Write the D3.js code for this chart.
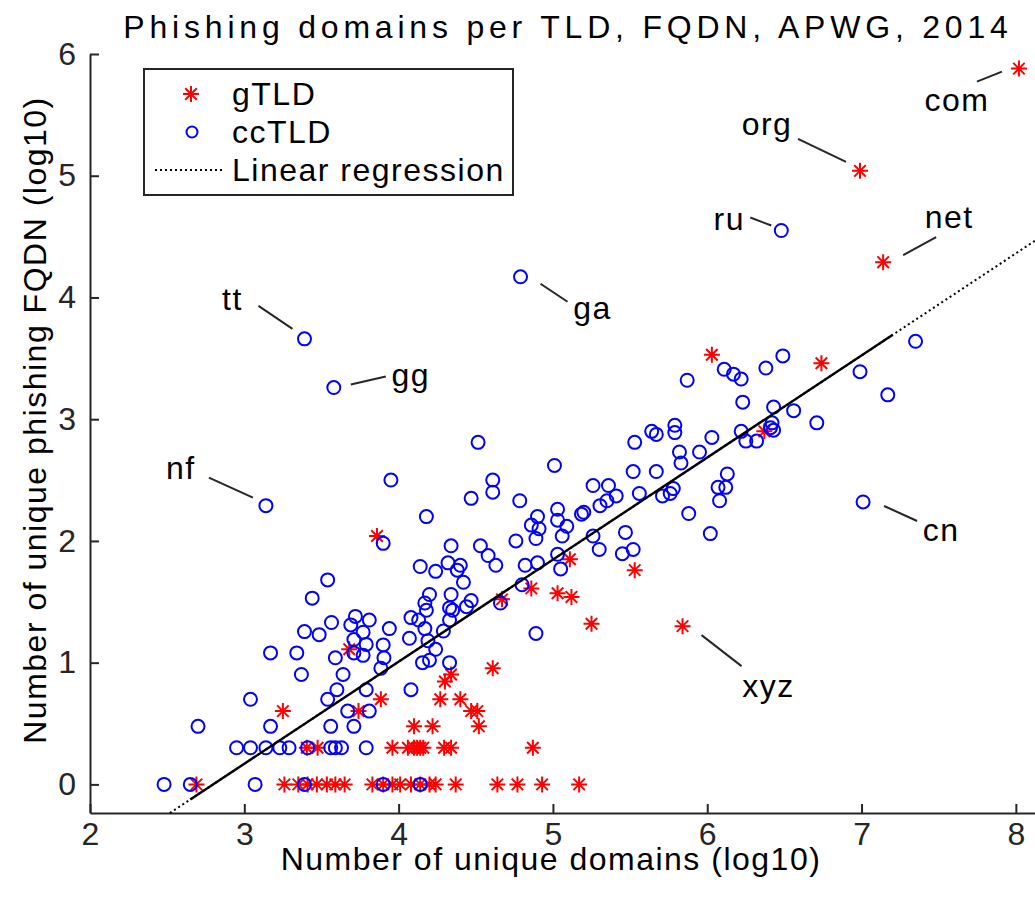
<!DOCTYPE html>
<html>
<head>
<meta charset="utf-8">
<script src="https://cdn.jsdelivr.net/npm/d3@7"></script>
<style>
  body { margin: 0; background: #fff; }
  svg { display: block; font-family: "Liberation Sans", Arial, sans-serif; }
</style>
</head>
<body>
<svg id="chart" width="1035" height="907"></svg>
<script>
// gTLD (red stars): log10 unique domains vs log10 unique phishing FQDN
const gtldX = [8.02, 6.99, 7.14, 5.84, 6.03, 6.74, 6.37, 5.11, 5.53, 4.86, 5.03, 5.12, 4.67, 5.25, 3.86, 3.68,
  4.61, 4.30, 4.34, 3.885, 4.27, 4.40, 3.25, 3.74, 4.47, 4.51, 4.52, 4.10, 4.22, 4.87,
  3.405, 3.475, 3.96, 4.06, 4.10, 4.12, 4.14, 4.16, 4.295, 4.34,
  2.69, 3.26, 3.35, 3.41, 3.47, 3.535, 3.59, 3.65, 3.83, 3.90, 3.96, 4.01, 4.08, 4.14, 4.20, 4.24, 4.37, 4.64, 4.77, 4.93, 5.17]
const gtldY = [5.88, 5.04, 4.29, 1.30, 3.53, 3.46, 2.90, 1.85, 1.76, 1.61, 1.57, 1.54, 1.52, 1.32, 2.04, 1.11,
  0.954, 0.845, 0.903, 0.699, 0.699, 0.699, 0.602, 0.602, 0.602, 0.602, 0.477, 0.477, 0.477, 0.301,
  0.301, 0.301, 0.301, 0.301, 0.301, 0.301, 0.301, 0.301, 0.301, 0.301,
  0, 0, 0, 0, 0, 0, 0, 0, 0, 0, 0, 0, 0, 0, 0, 0, 0, 0, 0, 0, 0]

// ccTLD (blue circles)
const cctldX = [3.39, 3.58, 3.14, 4.79, 6.48, 7.01,
  7.35, 6.99, 7.17, 6.49, 6.38, 6.11, 6.17, 6.22, 5.87, 6.23, 6.43, 6.56, 6.71, 6.42, 6.41, 6.43, 6.22, 6.25, 6.32, 6.03,
  5.79, 5.79, 5.64, 5.67, 5.53, 5.82, 5.83, 5.95, 5.67, 5.52, 5.56, 5.71, 5.76, 5.78, 6.13, 6.07, 6.12, 6.08, 5.88, 6.02,
  4.515, 5.01, 4.61, 4.61, 4.47, 4.785, 4.18, 5.03, 5.03, 4.90, 4.86, 4.91, 4.89, 5.09, 5.06, 4.76, 5.185, 5.20, 5.26, 5.36,
  5.305, 5.35, 5.41, 5.26, 5.30, 5.47, 5.45, 5.52, 3.95, 3.90,
  4.34, 4.53, 4.58, 4.63, 4.82, 4.90, 5.03, 5.05, 4.80, 4.66, 4.89,
  4.14, 4.24, 4.32, 4.38, 4.40, 4.42, 3.54, 3.44, 4.20, 4.17, 4.18, 4.34, 4.33, 4.35, 4.47, 4.44,
  4.08, 4.13, 4.17, 4.33, 4.29, 3.72, 3.81, 3.565, 3.69, 3.77, 3.94, 3.39, 3.485, 3.71, 3.79, 3.90, 3.905, 3.885,
  4.07, 4.19, 4.24, 3.59, 3.71, 3.77, 4.155, 4.20, 4.33, 3.17, 3.34, 3.37, 3.64, 3.60, 3.79, 4.08, 3.04, 3.54,
  3.67, 3.81, 2.70, 3.17, 3.56, 3.71,
  2.95, 3.04, 3.14, 3.23, 3.29, 3.41, 3.56, 3.59, 3.63, 3.79,
  2.48, 2.65, 3.07, 3.39, 3.90, 4.14]
const cctldY = [3.66, 3.26, 2.29, 4.17, 4.55, 2.32,
  3.64, 3.39, 3.20, 3.52, 3.42, 3.41, 3.37, 3.33, 3.32, 3.14, 3.10, 3.07, 2.97, 2.97, 2.93, 2.91, 2.90, 2.82, 2.82, 2.85,
  2.95, 2.89, 2.90, 2.875, 2.81, 2.73, 2.64, 2.73, 2.57, 2.57, 2.39, 2.37, 2.39, 2.43, 2.55, 2.44, 2.44, 2.33, 2.225, 2.06,
  2.81, 2.62, 2.50, 2.40, 2.35, 2.33, 2.20, 2.26, 2.17, 2.20, 2.13, 2.10, 2.02, 2.12, 2.04, 2.00, 2.22, 2.235, 2.455, 2.455,
  2.29, 2.33, 2.37, 2.04, 1.93, 2.07, 1.895, 1.93, 2.50, 1.98,
  1.96, 1.96, 1.88, 1.80, 1.80, 1.82, 1.89, 1.77, 1.64, 1.49, 1.24,
  1.79, 1.75, 1.82, 1.76, 1.80, 1.66, 1.68, 1.53, 1.56, 1.49, 1.43, 1.56, 1.45, 1.43, 1.51, 1.46,
  1.37, 1.35, 1.28, 1.35, 1.26, 1.38, 1.35, 1.33, 1.31, 1.25, 1.28, 1.255, 1.23, 1.19, 1.15, 1.146, 1.04, 0.954,
  1.20, 1.18, 1.11, 1.04, 1.08, 1.06, 1.0, 1.02, 1.0, 1.08, 1.08, 0.903, 0.903, 0.778, 0.778, 0.778, 0.699, 0.699,
  0.602, 0.602, 0.477, 0.477, 0.477, 0.477,
  0.301, 0.301, 0.301, 0.301, 0.301, 0.301, 0.301, 0.301, 0.301, 0.301,
  0, 0, 0, 0, 0, 0]

// labelled TLDs
const labelNames = ["com", "org", "net", "xyz", "ru", "ga", "tt", "gg", "nf", "cn"]
const labelX = [8.02, 6.99, 7.14, 5.84, 6.48, 4.79, 3.39, 3.58, 3.14, 7.01]
const labelY = [5.88, 5.04, 4.29, 1.30, 4.55, 4.17, 3.66, 3.26, 2.29, 2.32]

const xTicks = [2, 3, 4, 5, 6, 7, 8]
const yTicks = [0, 1, 2, 3, 4, 5, 6]

// regression line
const regSlope = 0.8385
const regIntercept = -2.346
const regSolid = [2.65, 7.2]

const svg = d3.select('#chart')
const axisColor = '#262626'

var x = d3.scaleLinear().domain([2, 8.15]).range([90, 1039])
var y = d3.scaleLinear().domain([-0.235, 6]).range([813, 54])

// leader line start/end and text centre, px relative to the marked point
const labelLayout = {
  com: [[-17, 3], [-42, 13], [-62, 31]],
  org: [[-14, -9], [-62, -32], [-93, -47]],
  net: [[20, -7], [53, -25], [66, -45]],
  xyz: [[19, 9], [59, 40], [86, 60]],
  ru: [[-10, -5], [-31, -13], [-52, -12]],
  ga: [[20, 7], [47, 25], [72, 31]],
  tt: [[-12, -10], [-46, -33], [-72, -40]],
  gg: [[17, -3], [52, -11], [77, -13]],
  nf: [[-13, -8], [-57, -28], [-85, -38]],
  cn: [[21, 4], [54, 19], [78, 28]]
}

function starPath(s) {
  var d = s * 0.72
  return 'M' + (-s) + ',0H' + s + 'M0,' + (-s) + 'V' + s +
    'M' + (-d) + ',' + (-d) + 'L' + d + ',' + d + 'M' + (-d) + ',' + d + 'L' + d + ',' + (-d)
}

// axes
var xAxis = d3.axisBottom(x).tickValues(xTicks).tickFormat(d3.format('d'))
  .tickSizeInner(-9).tickSizeOuter(0).tickPadding(9)
var yAxis = d3.axisLeft(y).tickValues(yTicks).tickFormat(d3.format('d'))
  .tickSizeInner(-9).tickSizeOuter(0).tickPadding(14)

var gx = svg.append('g').attr('transform', 'translate(0,' + y(-0.235) + ')').call(xAxis)
var gy = svg.append('g').attr('transform', 'translate(' + x(2) + ',0)').call(yAxis)

;[gx, gy].forEach(function (g) {
  g.selectAll('path, line').attr('stroke', axisColor).attr('stroke-width', 2)
  g.selectAll('text').attr('fill', axisColor).style('font-size', '32px')
    .style('font-family', '"Liberation Sans", Arial, sans-serif')
})

// markers
svg.append('g').selectAll('path')
  .data(gtldX.map((v, i) => [v, gtldY[i]]))
  .enter().append('path')
  .attr('d', starPath(8))
  .attr('transform', d => 'translate(' + x(d[0]) + ',' + y(d[1]) + ')')
  .attr('fill', 'none')
  .attr('stroke', '#ff0000')
  .attr('stroke-width', 2)

svg.append('g').selectAll('circle')
  .data(cctldX.map((v, i) => [v, cctldY[i]]))
  .enter().append('circle')
  .attr('cx', d => x(d[0]))
  .attr('cy', d => y(d[1]))
  .attr('r', 6.5)
  .attr('fill', 'none')
  .attr('stroke', '#0000ff')
  .attr('stroke-width', 2)

// regression: dotted across the axes, solid over the data span
var regStart = (-0.235 - regIntercept) / regSlope
var regEnd = 8.15
svg.append('line')
  .attr('x1', x(regStart)).attr('y1', y(regSlope * regStart + regIntercept))
  .attr('x2', x(regEnd)).attr('y2', y(regSlope * regEnd + regIntercept))
  .attr('stroke', '#000').attr('stroke-width', 2).attr('stroke-dasharray', '2,3')
svg.append('line')
  .attr('x1', x(regSolid[0])).attr('y1', y(regSlope * regSolid[0] + regIntercept))
  .attr('x2', x(regSolid[1])).attr('y2', y(regSlope * regSolid[1] + regIntercept))
  .attr('stroke', '#000').attr('stroke-width', 2.4)

// annotations
var ann = svg.append('g')
labelNames.forEach(function (name, i) {
  var px = x(labelX[i]), py = y(labelY[i])
  var L = labelLayout[name]
  ann.append('line')
    .attr('x1', px + L[0][0]).attr('y1', py + L[0][1])
    .attr('x2', px + L[1][0]).attr('y2', py + L[1][1])
    .attr('stroke', axisColor).attr('stroke-width', 2)
  ann.append('text')
    .attr('x', px + L[2][0]).attr('y', py + L[2][1])
    .attr('dy', '0.35em')
    .attr('text-anchor', 'middle')
    .style('font-size', '32px')
    .style('letter-spacing', '1.5px')
    .text(name)
})

// legend
var lg = svg.append('g')
lg.append('rect').attr('x', 144).attr('y', 69).attr('width', 369).attr('height', 126)
  .attr('fill', '#fff').attr('stroke', axisColor).attr('stroke-width', 2)
lg.append('path').attr('d', starPath(8)).attr('transform', 'translate(191,94)')
  .attr('fill', 'none').attr('stroke', '#ff0000').attr('stroke-width', 2)
lg.append('circle').attr('cx', 192).attr('cy', 132).attr('r', 5.5)
  .attr('fill', 'none').attr('stroke', '#0000ff').attr('stroke-width', 2)
lg.append('line').attr('x1', 155).attr('x2', 222).attr('y1', 170).attr('y2', 170)
  .attr('stroke', '#000').attr('stroke-width', 2).attr('stroke-dasharray', '2,3')
var legendNames = ['gTLD', 'ccTLD', 'Linear regression']
lg.selectAll('text.leg').data(legendNames).enter().append('text')
  .attr('class', 'leg')
  .attr('x', 232)
  .attr('y', (d, i) => 94 + i * 38)
  .attr('dy', '0.35em')
  .style('font-size', '32px')
  .style('letter-spacing', '1.5px')
  .text(d => d)

// titles
svg.append('text').attr('x', 568).attr('y', 38).attr('text-anchor', 'middle')
  .style('font-size', '32px').style('letter-spacing', '4.8px')
  .text('Phishing domains per TLD, FQDN, APWG, 2014')
svg.append('text').attr('x', 551).attr('y', 870).attr('text-anchor', 'middle')
  .style('font-size', '32px').style('letter-spacing', '1.5px')
  .text('Number of unique domains (log10)')
svg.append('text').attr('transform', 'translate(46,420) rotate(-90)').attr('text-anchor', 'middle')
  .style('font-size', '32px').style('letter-spacing', '1.5px')
  .text('Number of unique phishing FQDN (log10)')
</script>
</body>
</html>
